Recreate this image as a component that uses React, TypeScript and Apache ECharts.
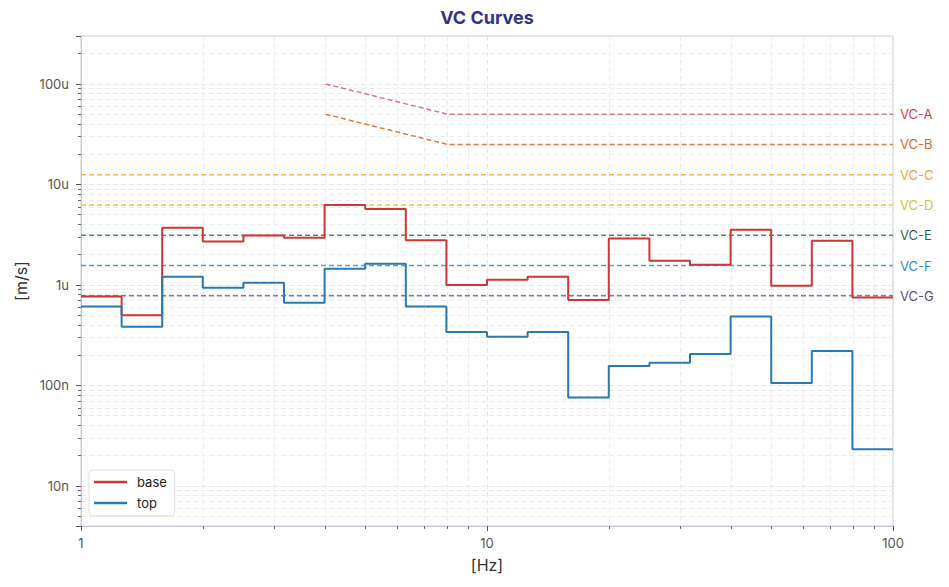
import React, { useEffect, useRef } from "react";
import * as echarts from "echarts";

// One-third octave band edges [Hz]
const bandEdges = [
  1, 1.259, 1.585, 1.995, 2.512, 3.162, 3.981, 5.012, 6.31, 7.943, 10,
  12.59, 15.85, 19.95, 25.12, 31.62, 39.81, 50.12, 63.1, 79.43, 100,
];

// Band values [m/s]
const baseValues = [
  0.77e-6, 0.5e-6, 3.7e-6, 2.7e-6, 3.1e-6, 2.95e-6, 6.25e-6, 5.7e-6, 2.78e-6,
  1.0e-6, 1.13e-6, 1.21e-6, 0.71e-6, 2.9e-6, 1.74e-6, 1.59e-6, 3.55e-6,
  0.98e-6, 2.76e-6, 0.75e-6,
];
const topValues = [
  0.61e-6, 0.385e-6, 1.21e-6, 0.94e-6, 1.05e-6, 0.665e-6, 1.45e-6, 1.63e-6,
  0.61e-6, 0.34e-6, 0.305e-6, 0.34e-6, 0.076e-6, 0.156e-6, 0.168e-6,
  0.206e-6, 0.485e-6, 0.106e-6, 0.22e-6, 0.0232e-6,
];

// VC criteria
const vcNames = ["VC-A", "VC-B", "VC-C", "VC-D", "VC-E", "VC-F", "VC-G"];
const vcLevels = [50e-6, 25e-6, 12.5e-6, 6.25e-6, 3.12e-6, 1.56e-6, 0.78e-6];
const vcLabelColors = ["#c8474f", "#d9692a", "#e9a33c", "#d2c52c", "#2f6a50", "#3a8cc4", "#57506e"];
const vcLineColors = ["#d8787c", "#e07a38", "#f0b048", "#dccf3a", "#4e8c6a", "#4a9ed6", "#807898"];
const vcKneeFreq = 8;
const vcStartFreqSloped = 4;

const yTickLabels: Record<string, string> = {
  "-9": "1n",
  "-8": "10n",
  "-7": "100n",
  "-6": "1u",
  "-5": "10u",
  "-4": "100u",
  "-3": "1m",
};

const FONT = "Inter, 'Noto Sans', sans-serif";

function stepData(values: number[]) {
  return bandEdges.map((e, i) => [e, values[Math.min(i, values.length - 1)]]);
}

function vcData(level: number, idx: number) {
  if (idx < 2) {
    return [
      [vcStartFreqSloped, level * (vcKneeFreq / vcStartFreqSloped)],
      [vcKneeFreq, level],
      [100, level],
    ];
  }
  return [
    [1, level],
    [100, level],
  ];
}

export default function App() {
  const ref = useRef<HTMLDivElement>(null);

  useEffect(() => {
    document.body.style.margin = "0";
    if (!ref.current) return;
    const chart = echarts.init(ref.current, undefined, { renderer: "svg" });

    const vcSeries = vcNames.map((name, i) => ({
      name,
      type: "line",
      data: vcData(vcLevels[i], i),
      symbol: "none",
      silent: true,
      z: 1,
      lineStyle: { color: vcLineColors[i], width: 1.5, type: [5, 3] },
      itemStyle: { color: vcLineColors[i] },
      endLabel: {
        show: true,
        formatter: name,
        color: vcLabelColors[i],
        fontSize: 13,
        fontFamily: FONT,
        distance: 7,
      },
    }));

    const option: any = {
      animation: false,
      backgroundColor: "#ffffff",
      textStyle: { fontFamily: FONT },
      title: {
        text: "VC Curves",
        left: 487,
        top: 8,
        padding: 0,
        textAlign: "center",
        textStyle: { color: "#33338a", fontSize: 18, fontWeight: "bold", fontFamily: FONT },
      },
      legend: {
        data: ["base", "top"],
        orient: "vertical",
        left: 89,
        top: 470,
        padding: [3, 8, 4, 5],
        icon: "rect",
        itemWidth: 33,
        itemHeight: 2.5,
        itemGap: 3,
        borderColor: "#dddde4",
        borderWidth: 1,
        borderRadius: 4,
        backgroundColor: "#ffffff",
        textStyle: {
          color: "#222",
          fontSize: 13,
          lineHeight: 18,
          fontFamily: FONT,
          padding: [0, 0, 0, 5],
        },
      },
      grid: {
        left: 81,
        right: 56,
        top: 36,
        bottom: 61,
        show: true,
        borderColor: "#c8c8d8",
        borderWidth: 1,
      },
      xAxis: {
        type: "log",
        logBase: 10,
        min: 1,
        max: 100,
        name: "[Hz]",
        nameLocation: "middle",
        nameGap: 31,
        nameTextStyle: { color: "#333", fontSize: 16, fontFamily: FONT },
        axisLine: { show: true, lineStyle: { color: "#c8c8d8" } },
        axisTick: { show: true, length: 5, lineStyle: { color: "#555" } },
        minorTick: { show: true, splitNumber: 9, length: 3, lineStyle: { color: "#666" } },
        axisLabel: {
          color: "#555",
          fontSize: 13,
          margin: 10,
          fontFamily: FONT,
          formatter: (v: number) => String(Math.round(v)),
        },
        splitLine: { show: true, lineStyle: { color: "#e4e4ea", type: [5, 3], width: 1 } },
        minorSplitLine: { show: true, lineStyle: { color: "#ececf0", type: [5, 3], width: 1 } },
      },
      yAxis: {
        type: "log",
        logBase: 10,
        min: 4e-9,
        max: 3e-4,
        name: "[m/s]",
        nameLocation: "middle",
        nameGap: 51,
        nameTextStyle: { color: "#333", fontSize: 16, fontFamily: FONT },
        axisLine: { show: true, lineStyle: { color: "#c8c8d8" } },
        axisTick: { show: true, length: 5, lineStyle: { color: "#555" } },
        minorTick: { show: true, splitNumber: 9, length: 3, lineStyle: { color: "#666" } },
        axisLabel: {
          color: "#555",
          fontSize: 13,
          margin: 12,
          fontFamily: FONT,
          showMinLabel: false,
          showMaxLabel: false,
          formatter: (v: number) => {
            const l = Math.log10(v);
            const r = Math.round(l);
            if (Math.abs(l - r) > 0.01) return "";
            return yTickLabels[String(r)] || "";
          },
        },
        splitLine: { show: true, lineStyle: { color: "#e4e4ea", type: [5, 3], width: 1 } },
        minorSplitLine: { show: true, lineStyle: { color: "#ececf0", type: [5, 3], width: 1 } },
      },
      series: [
        ...vcSeries,
        {
          name: "base",
          type: "line",
          step: "end",
          data: stepData(baseValues),
          symbol: "none",
          z: 3,
          lineStyle: { color: "#cf3535", width: 2 },
          itemStyle: { color: "#cf3535" },
        },
        {
          name: "top",
          type: "line",
          step: "end",
          data: stepData(topValues),
          symbol: "none",
          z: 3,
          lineStyle: { color: "#2a7ab0", width: 2 },
          itemStyle: { color: "#2a7ab0" },
        },
      ],
    };

    chart.setOption(option);
    return () => chart.dispose();
  }, []);

  return <div ref={ref} style={{ width: 949, height: 587 }} />;
}
